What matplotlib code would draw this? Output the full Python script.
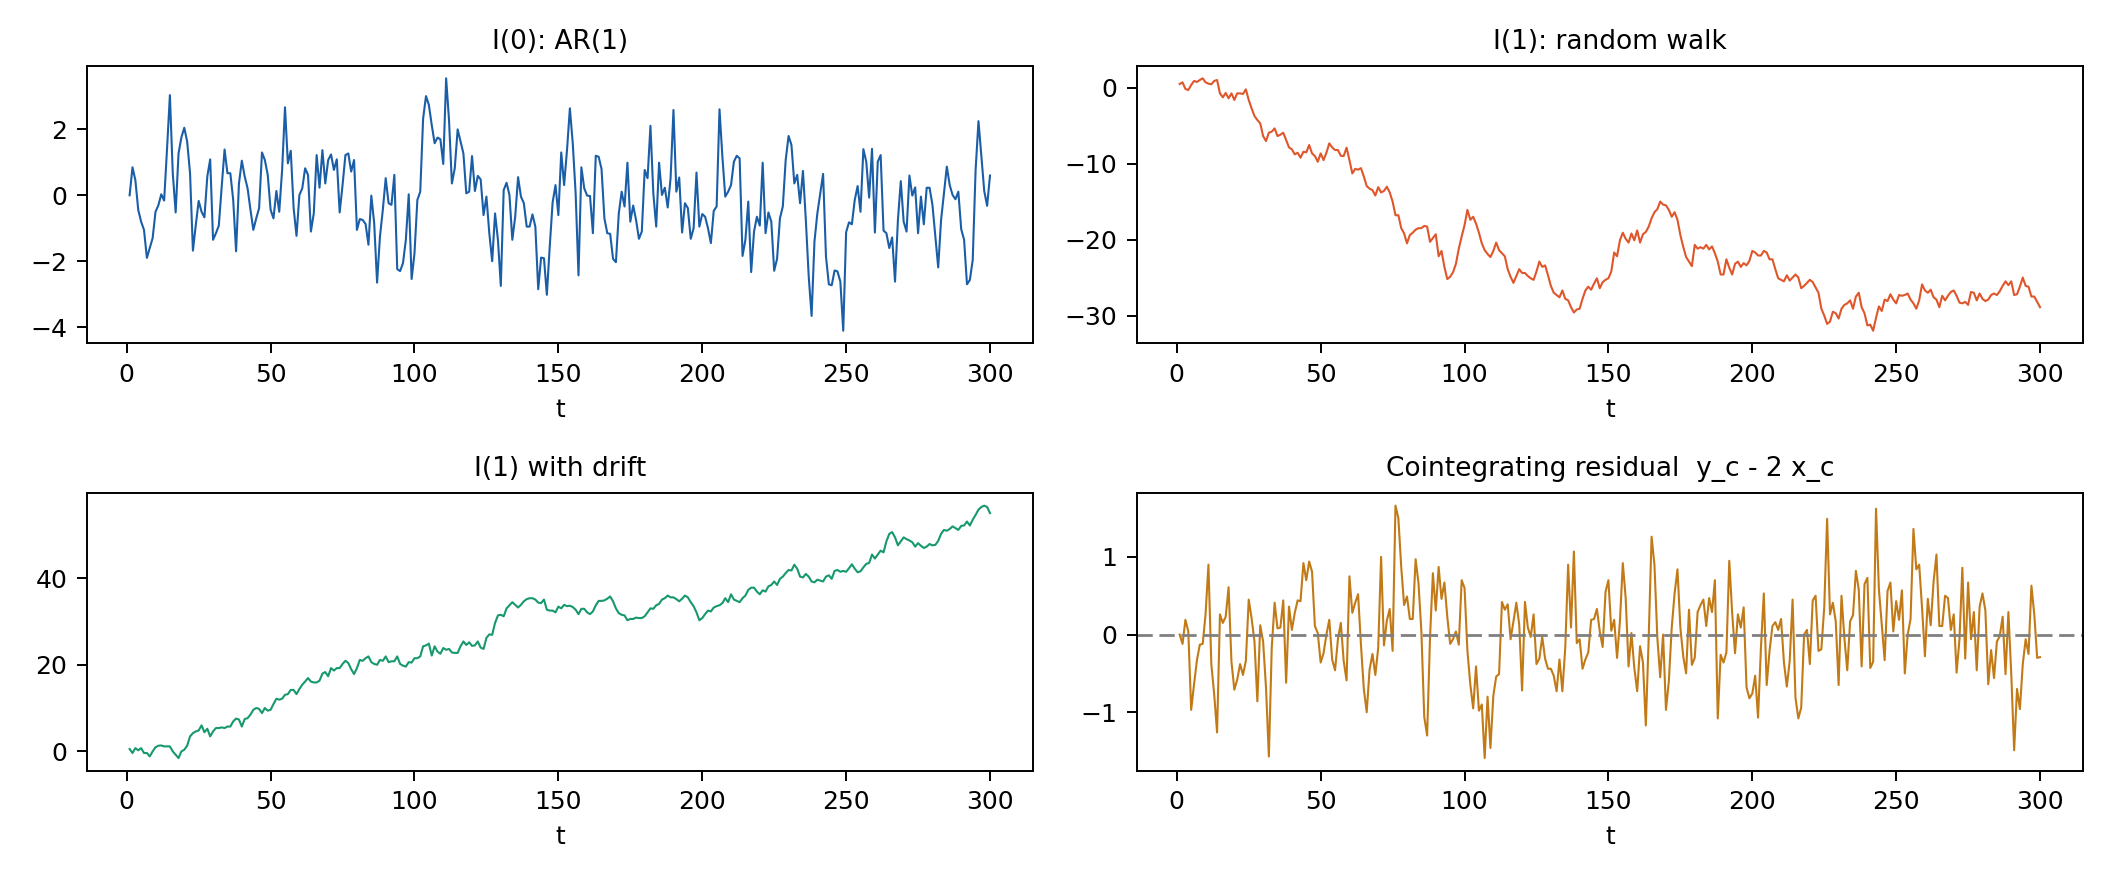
import numpy as np
import matplotlib
matplotlib.use("Agg")
import matplotlib.pyplot as plt

# I(0): AR(1) series, t = 1..300
ar1 = [
    0.0, 0.85, 0.46, -0.44, -0.8, -1.05, -1.9, -1.6, -1.3, -0.5,
    -0.3, 0.03, -0.16, 1.4, 3.04, 0.67, -0.52, 1.27, 1.76, 2.05,
    1.63, 0.67, -1.68, -0.9, -0.17, -0.5, -0.67, 0.57, 1.09, -1.35,
    -1.15, -0.92, 0.26, 1.39, 0.67, 0.67, -0.14, -1.7, 0.36, 1.05,
    0.57, 0.21, -0.44, -1.05, -0.7, -0.39, 1.3, 1.07, 0.62, -0.44,
    -0.7, 0.13, -0.5, 0.77, 2.67, 0.97, 1.35, -0.39, -1.23, 0.01,
    0.21, 0.82, 0.62, -1.1, -0.55, 1.22, 0.23, 1.37, 0.36, 1.07,
    1.24, 0.77, 1.09, -0.52, 0.31, 1.22, 1.27, 0.72, 1.07, -1.05,
    -0.72, -0.75, -0.87, -1.5, -0.01, -0.85, -2.65, -1.25, -0.44, 0.52,
    -0.24, -0.29, 0.62, -2.24, -2.3, -2.06, -1.35, 0.03, -2.54, -1.76,
    -0.14, 0.11, 2.33, 3.01, 2.74, 2.13, 1.58, 1.75, 1.7, 0.95,
    3.55, 2.28, 0.36, 0.82, 2.0, 1.63, 1.27, 0.06, 0.11, 1.19,
    0.13, 0.59, 0.48, -0.6, -0.04, -1.15, -2.0, -0.55, -1.35, -2.75,
    0.16, 0.38, 0.01, -1.35, -0.65, 0.55, -0.04, -0.24, -0.95, -0.95,
    -0.58, -0.95, -2.85, -1.89, -1.91, -3.02, -1.56, -0.22, 0.31, -0.6,
    1.3, 0.31, 1.37, 2.64, 1.58, 0.06, -2.43, 0.85, 0.21, -0.01,
    -0.02, -1.15, 1.2, 1.17, 0.8, -0.7, -1.15, -1.17, -1.93, -2.03,
    -0.55, 0.11, -0.34, 0.99, -0.8, -0.31, -0.75, -1.32, -1.1, 0.77,
    0.52, 2.11, 0.06, -0.95, 0.99, 0.01, 0.23, -0.37, 0.52, 2.59,
    0.11, 0.54, -1.13, -0.24, -0.39, -1.32, -1.0, 0.69, -0.95, -0.57,
    -0.65, -1.0, -1.45, -0.47, -0.34, 2.61, 1.17, -0.04, 0.11, 0.31,
    1.02, 1.2, 1.12, -1.84, -1.35, -0.19, -2.33, -1.1, -0.65, -0.92,
    0.99, -1.15, -0.52, -0.8, -2.29, -1.93, -0.7, -0.34, 1.07, 1.8,
    1.53, 0.36, 0.62, -0.24, 0.74, -0.75, -2.46, -3.66, -1.4, -0.55,
    0.06, 0.65, -1.86, -2.7, -2.73, -2.28, -2.31, -2.62, -4.11, -1.12,
    -0.82, -0.88, -0.14, 0.28, -0.5, 1.4, 1.02, -0.07, 1.41, -1.13,
    1.02, 1.22, -1.07, -1.15, -1.6, -1.28, -2.62, -0.75, 0.43, -0.8,
    -1.1, 0.6, -0.01, 0.24, -1.15, -0.04, -0.88, 0.23, 0.23, -0.29,
    -1.25, -2.19, -0.75, 0.06, 0.87, 0.31, 0.01, -0.12, 0.11, -1.03,
    -1.35, -2.7, -2.57, -1.96, 0.77, 2.25, 1.17, 0.13, -0.32, 0.6,
]

# I(1): random walk
walk = [
    0.47, 0.69, -0.18, -0.32, 0.34, 0.87, 0.74, 1.0, 1.22, 0.69,
    0.52, 0.43, 0.87, 1.0, -0.76, -1.28, -0.71, -1.41, -0.76, -1.63,
    -0.76, -0.76, -0.84, -0.23, -1.63, -2.73, -3.74, -4.27, -4.71, -6.38,
    -7.04, -5.94, -5.8, -5.37, -6.38, -6.2, -5.94, -6.9, -7.87, -8.13,
    -8.79, -8.57, -9.23, -8.44, -8.53, -7.56, -8.66, -9.01, -9.76, -8.66,
    -9.54, -8.57, -7.34, -7.87, -8.22, -8.22, -8.97, -9.01, -7.91, -9.54,
    -11.3, -10.7, -10.8, -10.6, -11.7, -12.96, -13.3, -13.5, -14.2, -13.1,
    -13.8, -13.6, -13.05, -13.8, -15.0, -16.8, -16.8, -18.5, -19.2, -20.5,
    -19.4, -19.1, -18.7, -18.5, -18.5, -18.2, -18.3, -20.3, -19.8, -19.3,
    -22.2, -21.5, -23.6, -25.2, -24.9, -24.3, -23.2, -21.2, -19.6, -18.1,
    -16.1, -17.4, -17.0, -17.9, -19.1, -20.5, -21.4, -21.9, -22.3, -21.5,
    -20.4, -21.4, -21.8, -22.2, -23.9, -24.9, -25.7, -24.8, -23.9, -24.4,
    -24.4, -24.8, -25.1, -25.3, -24.2, -22.9, -23.6, -23.4, -24.7, -26.1,
    -27.0, -27.3, -27.6, -26.7, -27.8, -28.0, -28.9, -29.6, -29.2, -29.1,
    -27.8, -26.7, -26.2, -26.6, -25.8, -25.1, -26.4, -25.6, -25.3,
    -25.1, -24.2, -21.7, -22.2, -20.1, -19.1, -19.9, -20.4, -19.2, -20.1,
    -18.8, -20.4, -19.3, -19.0, -18.3, -17.2, -16.4, -16.0, -15.0, -15.4,
    -15.5, -16.1, -17.0, -16.4, -17.4, -19.4, -20.96, -22.3, -22.9, -23.5,
    -20.7, -21.2, -21.0, -21.2, -20.7, -21.3, -20.9, -21.8, -22.9, -24.6,
    -24.6, -22.6, -23.7, -24.6, -23.2, -22.9, -23.6, -23.1, -23.4, -22.8,
    -21.5, -21.7, -22.1, -22.1, -21.5, -21.7, -22.6, -22.6, -23.9, -25.1,
    -25.3, -25.5, -24.7, -25.4, -25.0, -24.6, -25.0, -26.4, -26.1, -25.7,
    -25.3, -25.6, -26.3, -27.0, -29.1, -30.0, -31.1, -30.8, -29.5, -29.7,
    -30.4, -29.1, -28.6, -28.4, -28.0, -29.1, -27.5, -27.0, -28.9, -29.7,
    -31.3, -31.2, -32.0, -30.3, -28.8, -29.4, -27.9, -28.1, -27.2, -27.9,
    -28.4, -27.3, -27.4, -27.3, -27.1, -27.9, -28.4, -29.1, -28.0, -25.9,
    -26.7, -27.0, -26.6, -27.6, -27.9, -28.9, -27.4, -28.0, -27.4, -26.9,
    -26.7, -27.4, -28.3, -28.4, -28.2, -28.6, -26.9, -27.0, -28.0, -27.1,
    -27.8, -28.1, -27.9, -27.3, -27.1, -27.3, -26.8, -26.1, -25.5, -26.0,
    -25.5, -27.3, -27.2, -26.2, -25.0, -26.1, -26.2, -27.5, -27.5, -28.2,
    -28.9,
]

# I(1) with drift
drift = [
    0.47, -0.45, 0.68, 0.17, 0.68, -0.45, -0.45, -1.23, -0.08, 0.88,
    1.24, 1.29, 1.08, 1.08, 1.08, -0.08, -0.85, -1.62, -0.08, 0.31,
    1.24, 3.39, 4.14, 4.55, 4.76, 5.94, 4.35, 5.16, 3.39, 4.55,
    5.32, 5.32, 5.47, 5.32, 5.67, 5.67, 6.86, 7.51, 7.3, 5.67,
    7.41, 7.61, 8.43, 9.55, 9.96, 9.75, 8.78, 9.96, 9.34, 9.55,
    10.87, 12.1, 11.89, 12.1, 13.01, 13.17, 14.14, 14.14, 13.17, 14.34,
    15.36, 16.07, 16.89, 16.07, 15.87, 15.87, 16.28, 17.91, 18.27, 17.3,
    19.19, 18.62, 19.19, 19.19, 20.15, 20.87, 20.36, 18.93, 17.81, 19.19,
    21.07, 20.87, 21.48, 21.89, 20.56, 20.15, 19.95, 21.07, 20.87, 21.89,
    20.56, 20.77, 20.77, 21.89, 20.15, 19.75, 19.54, 20.56, 20.46, 21.48,
    21.48, 21.89, 24.23, 24.44, 24.84, 22.09, 24.23, 23.01, 22.5, 23.83,
    23.42, 23.62, 22.8, 22.7, 22.7, 24.23, 25.35, 24.54, 25.15, 24.33,
    24.44, 25.35, 23.93, 23.62, 26.17, 26.99, 26.88, 29.64, 31.37, 31.52,
    31.17, 33.0, 33.72, 34.43, 33.82, 33.2, 33.82, 34.63, 35.14, 35.35,
    35.35, 35.04, 34.33, 34.22, 35.04, 32.69, 32.49, 32.49, 32.08, 33.41,
    33.0, 33.82, 33.51, 33.61, 33.31, 32.69, 31.67, 32.9, 32.9, 32.08,
    31.67, 32.29, 33.72, 34.73, 34.73, 34.84, 35.24, 35.75, 34.63, 33.0,
    31.88, 31.52, 31.37, 30.25, 30.55, 30.55, 30.86, 30.76, 30.76, 31.17,
    32.08, 33.0, 32.9, 33.72, 34.02, 35.04, 35.35, 35.96, 35.55, 35.55,
    35.14, 34.63, 35.24, 35.96, 35.55, 34.43, 33.51, 32.08, 30.25, 30.76,
    31.67, 32.49, 32.29, 33.2, 33.51, 33.72, 34.22, 35.35, 34.43, 36.26,
    35.04, 34.73, 34.43, 35.35, 35.96, 37.28, 37.79, 37.79, 36.88, 36.26,
    37.18, 36.88, 38.1, 38.41, 39.22, 38.41, 39.84, 40.34, 41.16, 41.87,
    41.77, 43.1, 42.18, 40.34, 40.14, 40.96, 40.34, 39.22, 39.02, 39.63,
    39.43, 39.22, 40.34, 40.65, 39.84, 41.67, 41.87, 41.46, 41.67, 41.46,
    42.28, 43.2, 42.18, 41.36, 41.57, 42.48, 43.3, 43.5, 45.44, 44.52,
    45.44, 46.36, 45.95, 48.5, 50.23, 50.64, 49.42, 47.58, 48.5, 49.42,
    49.01, 48.71, 48.3, 47.28, 48.09, 47.48, 46.97, 47.28, 47.89, 47.58,
    47.68, 48.6, 50.23, 51.15, 50.95, 51.36, 51.97, 51.56, 51.15, 52.07,
    52.17, 53.09, 52.17, 53.5, 54.62, 55.84, 56.45, 56.76, 56.45, 55.03,
]

# cointegrating residual y_c - 2 x_c
resid = [
    0.0, -0.12, 0.19, 0.04, -0.97, -0.64, -0.33, -0.13, -0.12, 0.26,
    0.9, -0.38, -0.77, -1.26, 0.26, 0.15, 0.23, 0.61, -0.35, -0.71,
    -0.58, -0.38, -0.52, -0.34, 0.45, 0.21, -0.09, -0.86, 0.12, -0.09,
    -0.68, -1.57, -0.17, 0.41, 0.08, 0.09, 0.44, -0.62, 0.36, 0.06,
    0.28, 0.44, 0.43, 0.92, 0.7, 0.94, 0.81, 0.11, 0.02, -0.36,
    -0.24, 0.0, 0.19, -0.32, -0.46, -0.06, 0.15, -0.34, -0.59, 0.75,
    0.28, 0.41, 0.52, -0.13, -0.7, -1.0, -0.45, -0.25, -0.52, -0.17,
    1.0, -0.14, 0.18, 0.33, -0.21, 1.66, 1.5, 0.87, 0.38, 0.49,
    0.2, 0.2, 0.97, 0.66, 0.04, -1.06, -1.3, -0.04, 0.79, 0.31,
    0.87, 0.46, 0.67, 0.23, -0.12, -0.06, 0.04, -0.13, 0.7, 0.6,
    -0.21, -0.64, -0.95, -0.41, -0.98, -0.9, -1.59, -0.8, -1.46, -0.79,
    -0.54, -0.51, 0.42, 0.32, 0.39, -0.06, 0.17, 0.41, 0.13, -0.72,
    0.42, 0.09, -0.03, 0.26, -0.38, -0.31, -0.03, -0.31, -0.44, -0.44,
    -0.53, -0.73, -0.32, -0.73, -0.17, 0.9, 0.09, 1.07, -0.11, -0.06,
    -0.44, -0.32, -0.23, 0.19, 0.2, 0.33, 0.04, -0.16, 0.55, 0.7,
    0.05, 0.19, -0.3, 0.17, 0.92, 0.47, -0.41, 0.02, -0.43, -0.73,
    -0.15, -0.36, -1.17, -0.04, 1.26, 0.9, -0.04, -0.55, 0.0, -0.97,
    -0.6, 0.09, 0.53, 0.84, 0.09, -0.28, -0.5, 0.32, -0.39, -0.3,
    0.29, 0.38, 0.45, 0.11, 0.47, 0.29, 0.7, -1.08, -0.26, -0.36,
    -0.23, 0.95, 0.28, -0.24, 0.26, 0.09, 0.35, -0.68, -0.82, -0.76,
    -0.53, -1.07, -0.17, 0.53, -0.65, -0.21, 0.11, 0.16, 0.06, 0.2,
    -0.36, -0.67, -0.34, 0.45, -0.81, -1.08, -0.94, 0.0, 0.06, -0.38,
    0.44, 0.5, -0.21, -0.19, 0.35, 1.49, 0.26, 0.41, 0.17, -0.65,
    0.5, -0.04, -0.46, 0.17, 0.25, 0.82, 0.58, -0.41, 0.65, 0.73,
    -0.43, -0.35, 1.62, 0.58, 0.13, -0.33, 0.56, 0.67, 0.04, 0.43,
    0.19, 0.57, -0.5, 0.0, 0.2, 1.36, 0.84, 0.9, 0.34, -0.28,
    0.46, 0.12, 0.68, 1.03, 0.11, 0.11, 0.5, 0.47, 0.06, 0.26,
    -0.49, -0.06, 0.86, -0.31, 0.67, -0.06, 0.29, -0.46, 0.36, 0.53,
    0.31, -0.64, -0.2, -0.56, -0.09, -0.02, 0.23, -0.51, 0.29, -0.51,
    -1.49, -0.7, -0.96, -0.38, -0.06, -0.25, 0.63, 0.26, -0.3, -0.29,
]

panels = [
    (ar1, "I(0): AR(1)", "#1b5ea8"),
    (walk, "I(1): random walk", "#e0562b"),
    (drift, "I(1) with drift", "#17996b"),
    (resid, "Cointegrating residual  y_c - 2 x_c", "#c27a17"),
]

plt.rcParams["axes.linewidth"] = 0.7
plt.rcParams["xtick.major.width"] = 0.7
plt.rcParams["ytick.major.width"] = 0.7

fig, axes = plt.subplots(2, 2, figsize=(10.56, 4.415))
fig.subplots_adjust(left=0.041, right=0.9863, top=0.9256, bottom=0.1272,
                    wspace=0.1095, hspace=0.539)

for ax, (vals, title, color) in zip(axes.flat, panels):
    t = np.arange(1, len(vals) + 1)
    ax.plot(t, vals, color=color, lw=0.75)
    ax.set_title(title, fontsize=9.5)
    ax.set_xlabel("t", fontsize=9)
    ax.set_xticks([0, 50, 100, 150, 200, 250, 300])
    ax.tick_params(labelsize=9)

# zero reference for the residual
axes[1, 1].axhline(0, color="gray", lw=1.0, ls=(0, (5.5, 2.4)))

fig.savefig("out.png", dpi=200)
